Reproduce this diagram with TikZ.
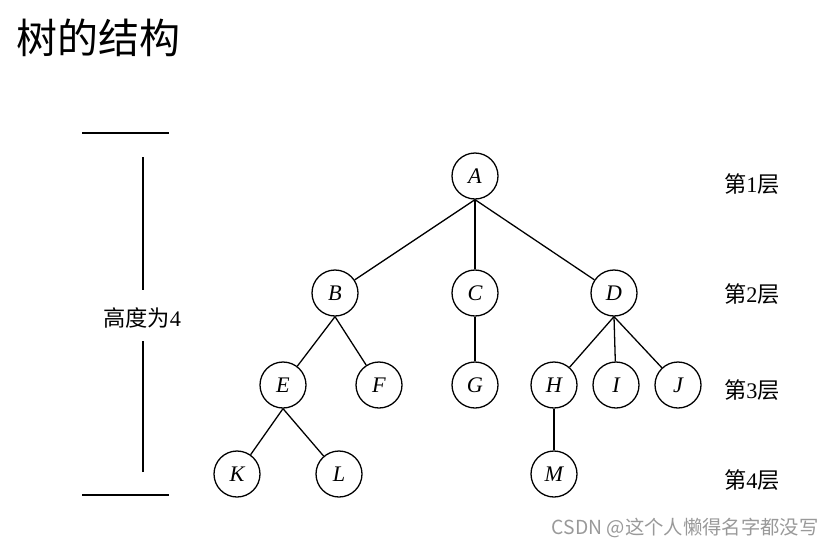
\documentclass[tikz,border=0pt]{standalone}
\usepackage{fontspec}
\setmainfont{Liberation Serif}
\newfontfamily\cjk{Noto Sans CJK SC}
\begin{document}
\begin{tikzpicture}[x=0.03cm, y=-0.03cm, line width=1.1pt]
	\tikzstyle{vertex} = [circle, draw, minimum size=1.38cm, inner sep=0pt, font=\fontsize{19}{21}\selectfont\itshape]
	\tikzstyle{level} = [font=\fontsize{19}{22}\selectfont]
	\useasboundingbox (0,0) rectangle (837,551);
	\node[anchor=west, font=\cjk\fontsize{35}{40}\selectfont](title) at (12,38) {树的结构};
	% tree
	\node[vertex](A) at (475,176) {A};
	\node[vertex](B) at (335,293) {B};
	\node[vertex](C) at (475,293) {C};
	\node[vertex](D) at (614,293) {D};
	\node[vertex](E) at (283,385) {E};
	\node[vertex](F) at (379,385) {F};
	\node[vertex](G) at (475,385) {G};
	\node[vertex](H) at (554,385) {H};
	\node[vertex](I) at (616,385) {I};
	\node[vertex](J) at (678,385) {J};
	\node[vertex](K) at (237,474) {K};
	\node[vertex](L) at (339,474) {L};
	\node[vertex](M) at (554,474) {M};
	\path  (A.south) edge (B);
	\path  (A.south) edge (C);
	\path  (A.south) edge (D);
	\path  (B.south) edge (E);
	\path  (B.south) edge (F);
	\path  (C) edge (G);
	\path  (D.south) edge (H);
	\path  (D.south) edge (I);
	\path  (D.south) edge (J);
	\path  (E.south) edge (K);
	\path  (E.south) edge (L);
	\path  (H) edge (M);
	% levels
	\node[level](l1) at (752,184) {{\cjk 第}1{\cjk 层}};
	\node[level](l2) at (752,294) {{\cjk 第}2{\cjk 层}};
	\node[level](l3) at (752,390) {{\cjk 第}3{\cjk 层}};
	\node[level](l4) at (752,480) {{\cjk 第}4{\cjk 层}};
	% height
	\node[level](h) at (142,318) {{\cjk 高度为}4};
	\coordinate (tl) at (82,133);
	\coordinate (tr) at (169,133);
	\coordinate (bl) at (82,495);
	\coordinate (br) at (169,495);
	\coordinate (vt) at (143,157);
	\coordinate (vb) at (143,472);
	\draw (tl) -- (tr);
	\draw (bl) -- (br);
	\draw (vt) -- (vt |- 0,290);
	\draw (vb) -- (vb |- 0,341);
	\node[anchor=east, text=gray!80, font=\cjk\fontsize{16.5}{18}\selectfont](mark) at (823,528) {CSDN @这个人懒得名字都没写};
\end{tikzpicture}
\end{document}
